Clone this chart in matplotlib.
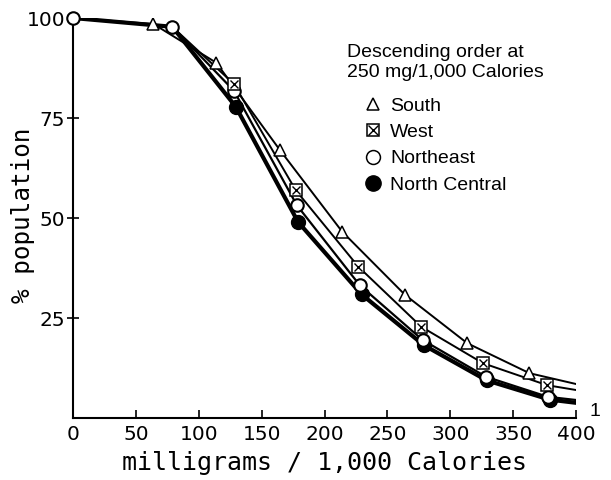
import matplotlib
matplotlib.use("Agg")
import matplotlib.pyplot as plt
from matplotlib.legend_handler import HandlerTuple
from matplotlib.lines import Line2D

# ---- data ----
south_x = [64, 114, 164.5, 214, 264, 313.5, 363]
south_y = [98.5, 88.8, 67.0, 46.6, 30.8, 18.7, 11.2]
south_line_x = [0, 64, 114, 164.5, 214, 264, 313.5, 363, 400]
south_line_y = [100, 98.5, 88.8, 67.0, 46.6, 30.8, 18.7, 11.2, 8.5]

west_x = [128, 177, 227, 277, 326, 377]
west_y = [83.5, 57.0, 37.8, 22.8, 13.7, 8.2]
west_line_x = [0, 79, 128, 177, 227, 277, 326, 377, 400]
west_line_y = [100, 97.8, 83.5, 57.0, 37.8, 22.8, 13.7, 8.2, 7.0]

ne_x = [0, 79, 128, 178, 228, 278, 328.5, 377.5]
ne_y = [100, 97.8, 81.8, 53.2, 33.2, 19.5, 10.3, 5.3]
ne_line_x = [0, 79, 128, 178, 228, 278, 328.5, 377.5, 400]
ne_line_y = [100, 97.8, 81.8, 53.2, 33.2, 19.5, 10.3, 5.3, 4.5]

nc_x = [129.5, 179, 229.5, 279, 329, 379]
nc_y = [77.8, 49.0, 30.9, 18.2, 9.4, 4.6]
nc_line_x = [0, 79, 129.5, 179, 229.5, 279, 329, 379, 400]
nc_line_y = [100, 97.8, 77.8, 49.0, 30.9, 18.2, 9.4, 4.6, 3.8]

x_ticks = [0, 50, 100, 150, 200, 250, 300, 350, 400]
y_ticks = [25, 50, 75, 100]

legend_title = "Descending order at\n250 mg/1,000 Calories"
labels = ["South", "West", "Northeast", "North Central"]

W, H = 611, 480

# ---- figure ----
fig = plt.figure(figsize=(W / 100, H / 100), dpi=100)
ax = fig.add_axes([73 / W, 1 - 418 / H, (576 - 73) / W, (418 - 18) / H])
ax.set_xlim(0, 400)
ax.set_ylim(0, 100)

k = "black"
ax.plot(south_line_x, south_line_y, color=k, lw=1.4, zorder=2)
ax.plot(west_line_x, west_line_y, color=k, lw=1.4, zorder=2)
ax.plot(ne_line_x, ne_line_y, color=k, lw=1.6, zorder=2)
ax.plot(nc_line_x, nc_line_y, color=k, lw=3.0, zorder=2)

ms = 9
ax.plot(south_x, south_y, ls="none", marker="^", ms=ms, mfc="white", mec=k, mew=1.1, zorder=4)
ax.plot(nc_x, nc_y, ls="none", marker="o", ms=ms + 1, mfc=k, mec=k, zorder=4)
ax.plot(ne_x, ne_y, ls="none", marker="o", ms=ms, mfc="white", mec=k, mew=1.5, zorder=5,
        clip_on=False)
ax.plot(west_x, west_y, ls="none", marker="s", ms=ms - 1, mfc="white", mec=k, mew=1.1, zorder=6)
ax.plot(west_x, west_y, ls="none", marker="x", ms=ms - 3, mec=k, mew=1.0, zorder=7)

for s in ["top", "right"]:
    ax.spines[s].set_visible(False)
for s in ["left", "bottom"]:
    ax.spines[s].set_linewidth(1.5)

ax.set_xticks(x_ticks)
ax.set_yticks(y_ticks)
ax.set_xticklabels([str(v) for v in x_ticks])
ax.set_yticklabels([str(v) for v in y_ticks])
ax.tick_params(axis="x", direction="in", length=6, width=1.2, pad=5, labelsize=14.5)
ax.tick_params(axis="y", direction="inout", length=9, width=1.2, pad=1, labelsize=14.5)

ax.set_xlabel("milligrams / 1,000 Calories", family="DejaVu Sans Mono", fontsize=18, labelpad=5)
ax.set_ylabel("% population", family="DejaVu Sans Mono", fontsize=17.5)
ax.yaxis.set_label_coords(-0.076, 0.507)

ax.text(411, 1.5, "1", fontsize=14, family="Liberation Sans", ha="left", va="center", clip_on=False)

# legend title
fig.text(347 / W, 1 - 44 / H, legend_title, family="Liberation Sans", fontsize=14,
         ha="left", va="top", linespacing=1.2)

h_s = Line2D([], [], ls="none", marker="^", ms=9, mfc="white", mec=k, mew=1.1)
h_w1 = Line2D([], [], ls="none", marker="s", ms=9, mfc="white", mec=k, mew=1.1)
h_w2 = Line2D([], [], ls="none", marker="x", ms=7, mec=k, mew=1.0)
h_ne = Line2D([], [], ls="none", marker="o", ms=10, mfc="white", mec=k, mew=1.1)
h_nc = Line2D([], [], ls="none", marker="o", ms=11, mfc=k, mec=k)
leg = fig.legend([h_s, (h_w1, h_w2), h_ne, h_nc], labels,
                 handler_map={tuple: HandlerTuple(ndivide=1)},
                 loc="upper left", bbox_to_anchor=(363 / W, 1 - 97 / H),
                 frameon=False,
                 prop={"family": "Liberation Sans", "size": 14},
                 handlelength=1.0, handletextpad=0.4, labelspacing=0.45,
                 borderpad=0, borderaxespad=0)

fig.savefig("out.png", dpi=100)
